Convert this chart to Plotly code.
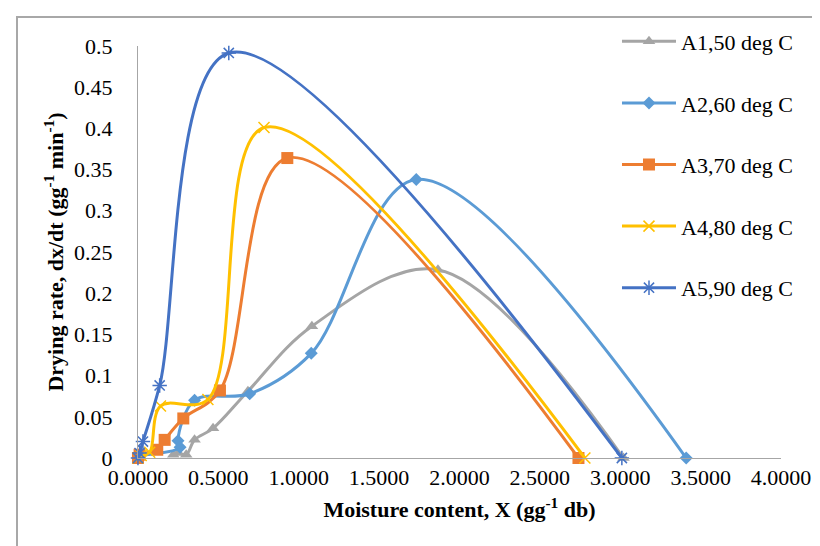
import plotly.graph_objects as go

names = ["A1,50 deg C", "A2,60 deg C", "A3,70 deg C", "A4,80 deg C", "A5,90 deg C"]
colors = ["#A5A5A5", "#5B9BD5", "#ED7D31", "#FFC000", "#4472C4"]
symbols = ["triangle-up", "diamond", "square", "x-thin", "asterisk"]

# moisture content X (gg-1 db), in data order
a1_x = [3.02, 1.866, 1.082, 0.684, 0.467, 0.352, 0.30, 0.25, 0.22]
a1_y = [0.0, 0.2285, 0.160, 0.081, 0.036, 0.022, 0.004, 0.006, 0.004]

a2_x = [3.41, 1.731, 1.078, 0.695, 0.352, 0.249, 0.262, 0.01]
a2_y = [0.0, 0.338, 0.127, 0.078, 0.070, 0.021, 0.013, 0.003]

a3_x = [2.74, 0.929, 0.510, 0.282, 0.166, 0.12, 0.01, 0.0]
a3_y = [0.0, 0.364, 0.082, 0.048, 0.022, 0.010, 0.004, 0.0]

a4_x = [2.78, 0.784, 0.435, 0.140, 0.073, 0.02, 0.0]
a4_y = [0.0, 0.401, 0.071, 0.063, 0.007, 0.003, 0.0]

a5_x = [3.01, 0.565, 0.135, 0.031, 0.01, 0.0]
a5_y = [0.0, 0.4915, 0.088, 0.020, 0.006, 0.0]

series_x = [a1_x, a2_x, a3_x, a4_x, a5_x]
series_y = [a1_y, a2_y, a3_y, a4_y, a5_y]

y_tickvals = [0, 0.05, 0.1, 0.15, 0.2, 0.25, 0.3, 0.35, 0.4, 0.45, 0.5]
y_ticktext = ["0", "0.05", "0.1", "0.15", "0.2", "0.25", "0.3", "0.35", "0.4", "0.45", "0.5"]
x_tickvals = [0, 0.5, 1, 1.5, 2, 2.5, 3, 3.5, 4]

FONT = "Liberation Serif"
FS = 22

fig = go.Figure()

# empty helper trace on a full-paper subplot whose axis lines form the chart border
fig.add_trace(go.Scatter(x=[None], y=[None], xaxis="x2", yaxis="y2",
                         showlegend=False, hoverinfo="skip", mode="lines"))

marker_sizes = [11, 10, 12, 11, 12]
for i in range(5):
    open_marker = symbols[i] in ("x-thin", "asterisk")
    fig.add_trace(go.Scatter(
        x=series_x[i], y=series_y[i], name=names[i],
        mode="lines+markers",
        line=dict(color=colors[i], width=3, shape="spline", smoothing=1.0),
        marker=dict(symbol=symbols[i], size=marker_sizes[i], color=colors[i],
                    line=dict(color=colors[i], width=1.5 if open_marker else 0)),
        cliponaxis=False,
        legendgroup=names[i],
    ))

fig.update_layout(
    width=820, height=546,
    margin=dict(l=10, r=0, t=10, b=0, autoexpand=False),
    paper_bgcolor="white", plot_bgcolor="rgba(0,0,0,0)",
    font=dict(family=FONT, size=FS, color="black"),
    showlegend=True,
    legend=dict(x=0.7395, y=0.9953, xanchor="left", yanchor="top",
                font=dict(family=FONT, size=FS, color="black"),
                tracegroupgap=30, itemwidth=54, bgcolor="rgba(0,0,0,0)",
                maxheight=500),
    xaxis=dict(domain=[0.1481, 0.942], range=[0, 4], tickvals=x_tickvals, tickformat=".4f",
               showgrid=False, zeroline=False, showline=True,
               linecolor="#A6A6A6", linewidth=1, ticks="",
               tickfont=dict(family=FONT, size=FS),
               title=dict(text="<b>Moisture content, X (gg<sup>-1</sup> db)</b>",
                          font=dict(family=FONT, size=FS), standoff=12)),
    yaxis=dict(domain=[0.1791, 0.9478], range=[0, 0.5], tickvals=y_tickvals, ticktext=y_ticktext,
               showgrid=False, zeroline=False, showline=True,
               linecolor="#A6A6A6", linewidth=1, ticks="",
               ticklabelstandoff=20,
               tickfont=dict(family=FONT, size=FS),
               title=dict(text="<b>Drying rate, dx/dt (gg<sup>-1</sup> min<sup>-1</sup>)</b>",
                          font=dict(family=FONT, size=FS), standoff=4)),
    xaxis2=dict(domain=[0, 1], anchor="y2", side="top", range=[0, 1],
                showline=True, linecolor="#A8A8A8", linewidth=1.5,
                showgrid=False, zeroline=False, showticklabels=False, ticks="",
                fixedrange=True),
    yaxis2=dict(domain=[0, 1], anchor="x2", side="left", range=[0, 1],
                showline=True, linecolor="#A8A8A8", linewidth=1.5,
                showgrid=False, zeroline=False, showticklabels=False, ticks="",
                fixedrange=True),
)

fig.write_html("out.html")
